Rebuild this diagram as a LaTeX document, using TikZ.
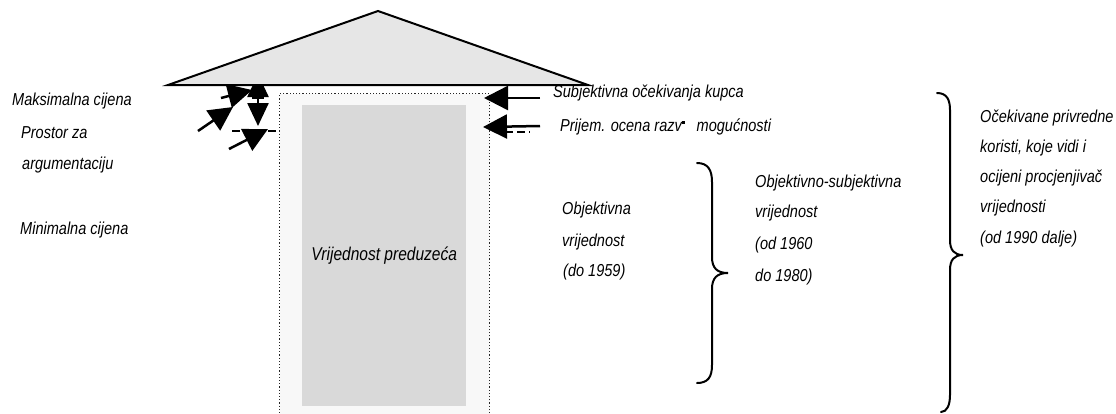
\documentclass[tikz,border=0pt]{standalone}
\usepackage{fontspec}
\setmainfont{Liberation Sans}[FakeStretch=0.84]
\usetikzlibrary{arrows.meta}
\definecolor{roof}{RGB}{230,230,230}
\definecolor{outerfill}{RGB}{248,248,248}
\definecolor{innerfill}{RGB}{217,217,217}
\begin{document}
\begin{tikzpicture}[x=1pt,y=-1pt,
  lbl/.style={font=\fontsize{17.3}{20}\selectfont\itshape, anchor=west, inner sep=0pt},
  bigarrow/.style={line width=2.5pt, -{Triangle[length=24pt,width=24pt]}},
  dblarrow/.style={line width=2.5pt, {Triangle[length=23pt,width=21pt]}-{Triangle[length=23pt,width=21pt]}},
  dashline/.style={line width=2.5pt, dash pattern=on 8pt off 4pt},
  bracepath/.style={line width=2pt, line cap=round}]
\useasboundingbox (0,0) rectangle (1116,413);

% boxes
\node[anchor=north west, draw=black!85, dotted, line width=1.2pt, fill=outerfill,
      minimum width=210pt, minimum height=340pt, inner sep=0pt] (outer) at (279,93) {};
\node[anchor=north west, fill=innerfill, minimum width=164pt, minimum height=301pt, inner sep=0pt] (inner) at (302,105) {};
\node[font=\fontsize{18.5}{22}\selectfont\itshape, inner sep=0pt] (val) at (inner.center) {Vrijednost preduzeća};

% dashed lines
\coordinate (dl1) at (232,131);
\coordinate (dl2) at (279,131);
\draw[dashline] (dl1) -- (dl2);
\coordinate (dr1) at (505,132);
\coordinate (dr2) at (530,132);
\draw[dashline] (dr1) -- (dr2);

% left arrows
\coordinate (la1s) at (221,98);  \coordinate (la1e) at (252,90);
\coordinate (la2s) at (198,131); \coordinate (la2e) at (233,107);
\coordinate (la3s) at (229,149); \coordinate (la3e) at (268,129);
\coordinate (vd1) at (258,74);   \coordinate (vd2) at (258,126);
\draw[bigarrow] (la1s) -- (la1e);
\draw[bigarrow] (la2s) -- (la2e);
\draw[bigarrow] (la3s) -- (la3e);
\draw[dblarrow] (vd1) -- (vd2);
\coordinate (cb1) at (252,98); \coordinate (cb2) at (264,98);
\draw[line width=1.2pt] (cb1) -- (cb2);

% right arrows
\coordinate (ra1s) at (540,98);  \coordinate (ra1e) at (484,98);
\coordinate (ra2s) at (540,126); \coordinate (ra2e) at (483,127);
\draw[bigarrow] (ra1s) -- (ra1e);
\draw[bigarrow] (ra2s) -- (ra2e);

% left labels
\node[lbl] (maks) at (12,101) {Maksimalna cijena};
\node[lbl] (pros) at (21,133) {Prostor za};
\node[lbl] (argu) at (22,165) {argumentaciju};
\node[lbl] (mini) at (20,230) {Minimalna cijena};

% right labels
\node[lbl] (subj) at (553,93) {Subjektivna očekivanja kupca};
\node[lbl] (prij) at (560,127) {Prijem. ocena razv\raisebox{8pt}{\rule{2.8pt}{2.8pt}}\hspace{12pt}mogućnosti};

\node[lbl] (obj1) at (562,210) {Objektivna};
\node[lbl] (obj2) at (562,242) {vrijednost};
\node[lbl] (obj3) at (563,272) {(do 1959)};

\node[lbl] (os1) at (755,183) {Objektivno-subjektivna};
\node[lbl] (os2) at (755,213) {vrijednost};
\node[lbl] (os3) at (755,245) {(od 1960};
\node[lbl] (os4) at (755,277) {do 1980)};

\node[lbl] (ok1) at (980,118) {Očekivane privredne};
\node[lbl] (ok2) at (980,148) {koristi, koje vidi i};
\node[lbl] (ok3) at (980,178) {ocijeni procjenjivač};
\node[lbl] (ok4) at (980,208) {vrijednosti};
\node[lbl] (ok5) at (980,239) {(od 1990 dalje)};

% braces
\coordinate (b1t) at (697,163);
\coordinate (b1tip) at (728,273);
\coordinate (b1b) at (697,383);
\draw[bracepath] (b1t) .. controls (708,163) and (712,170) .. (712,182)
  -- (712,257) .. controls (712,268) and (717,273) .. (b1tip)
  .. controls (717,273) and (712,278) .. (712,289)
  -- (712,365) .. controls (712,377) and (708,383) .. (b1b);

\coordinate (b2t) at (937,93);
\coordinate (b2tip) at (963,255);
\coordinate (b2b) at (941,412);
\draw[bracepath] (b2t) .. controls (947,93) and (950,100) .. (950,110)
  -- (950,240) .. controls (950,250) and (954,255) .. (b2tip)
  .. controls (954,255) and (950,260) .. (950,270)
  -- (950,395) .. controls (950,405) and (947,412) .. (b2b);

% roof triangle on top
\coordinate (apex) at (378,11);
\coordinate (rl) at (168,85);
\coordinate (rr) at (588,85);
\draw[line width=2pt, fill=roof, line join=miter] (rl) -- (apex) -- (rr) -- cycle;
\end{tikzpicture}
\end{document}
